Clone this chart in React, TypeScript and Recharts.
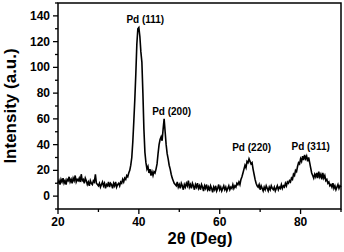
import React from 'react';
import { LineChart, Line, XAxis, YAxis, ReferenceArea, ReferenceDot, Label } from 'recharts';

const START_ANGLE = 20;
const STEP = 0.25;

// 20.00 – 37.00
const baselineLow = [
  10, 12, 9, 13, 11, 14, 10, 12, 9, 13, 12, 15, 11, 13, 10, 14, 12, 16, 11, 13, 12,
  14, 11, 17, 12, 13, 10, 14, 12, 9, 11, 8, 12, 10, 9, 12, 11, 17, 10, 9, 8,
  10, 7, 9, 11, 8, 10, 6, 9, 8, 11, 7, 10, 9, 6, 10, 8, 11, 7, 9, 10,
  8, 11, 10, 13, 11, 14, 13, 16,
];
// 37.25 – 43.50  Pd (111)
const peak111 = [
  15, 18, 20, 24, 30, 42, 58, 75, 95, 118, 130, 131, 124, 112, 104, 80,
  52, 34, 26, 21, 23, 18, 21, 16, 19, 16,
];
// 43.75 – 49.00  Pd (200)
const peak200 = [
  19, 18, 21, 25, 33, 40, 44, 46, 43, 52, 60, 50, 40, 33, 29, 24, 21, 17, 14, 12, 10, 9,
];
// 49.25 – 64.50
const baselineMid = [
  8, 11, 7, 9, 6, 10, 8, 5, 9, 7,
  10, 8, 12, 7, 9, 6, 10, 8, 5, 9,
  7, 10, 6, 8, 5, 9, 7, 4, 8, 6,
  9, 5, 7, 4, 8, 6, 3, 7, 5, 8,
  4, 6, 9, 5, 7, 4, 6, 8, 5, 7,
  4, 6, 8, 5, 7, 6, 9, 6, 8, 7,
  10, 9,
];
// 64.75 – 69.75  Pd (220)
const peak220 = [
  11, 9, 13, 15, 18, 21, 24, 22, 27, 26, 29, 27, 25, 26, 21, 17, 13, 10, 8, 7, 9,
];
// 70.00 – 77.00
const baselineHigh = [
  5, 8, 6, 4, 7, 5, 8, 6, 4, 7, 5, 8, 6, 5, 7, 4, 6, 8, 5, 7, 6, 9, 6, 8, 7, 10, 8, 11, 10,
];
// 77.25 – 90.00  Pd (311)
const peak311 = [
  12, 11, 14, 13, 17, 16, 20, 19, 23, 26, 25, 29, 27, 31, 28, 32, 29, 31, 27, 30,
  26, 22, 18, 16, 14, 17, 15, 18, 14, 19, 15, 17, 13, 18, 14, 16, 12, 13, 10, 11,
  8, 9, 7, 10, 6, 8, 5, 7, 9, 6, 8, 7,
];

const intensity = [
  ...baselineLow, ...peak111, ...peak200, ...baselineMid, ...peak220, ...baselineHigh, ...peak311,
];

const data = intensity.map((v, i) => ({ angle: START_ANGLE + i * STEP, intensity: v }));

const xTicks = [20, 30, 40, 50, 60, 70, 80, 90];
const xMajorTicks = [20, 40, 60, 80];
const yTicks = [-10, 0, 10, 20, 30, 40, 50, 60, 70, 80, 90, 100, 110, 120, 130, 140, 150];
const yMajorTicks = [0, 20, 40, 60, 80, 100, 120, 140];

const peakLabelText = ['Pd (111)', 'Pd (200)', 'Pd (220)', 'Pd (311)'];
const peakLabelAngle = [41.6, 48.1, 67.9, 82.5];
const peakLabelIntensity = [137.5, 66, 37.5, 38.5];

const FONT = '"Liberation Sans", Arial, sans-serif';

const XTick = (props: any) => {
  const { x, y, payload } = props;
  const major = xMajorTicks.includes(payload.value);
  return (
    <g>
      <line x1={x} y1={y} x2={x} y2={y + (major ? 5 : 3)} stroke="#000" strokeWidth={1.3} />
      {major && (
        <text x={x} y={y + 16.5} textAnchor="middle" fontSize={12} fontWeight="bold" fontFamily={FONT} fill="#000">
          {payload.value}
        </text>
      )}
    </g>
  );
};

const YTick = (props: any) => {
  const { x, y, payload } = props;
  const major = yMajorTicks.includes(payload.value);
  return (
    <g>
      <line x1={x} y1={y} x2={x - (major ? 5 : 3)} y2={y} stroke="#000" strokeWidth={1.3} />
      {major && (
        <text x={x - 8} y={y + 4} textAnchor="end" fontSize={12} fontWeight="bold" fontFamily={FONT} fill="#000">
          {payload.value}
        </text>
      )}
    </g>
  );
};

const YTitle = () => (
  <text
    x={16}
    y={106}
    transform="rotate(-90 16 106)"
    textAnchor="middle"
    fontSize={17}
    fontWeight="bold"
    fontFamily={FONT}
    fill="#000"
  >
    Intensity (a.u.)
  </text>
);

const XTitle = () => (
  <text x={200} y={243.5} textAnchor="middle" fontSize={16.5} fontWeight="bold" fontFamily={FONT} fill="#000">
    2θ (Deg)
  </text>
);

const PeakLabel = (text: string) => (props: any) => {
  const vb = props.viewBox || {};
  const cx = (vb.x ?? 0) + (vb.width ?? 0) / 2;
  const cy = (vb.y ?? 0) + (vb.height ?? 0) / 2;
  return (
    <text x={cx} y={cy + 3.5} textAnchor="middle" fontSize={10} fontWeight="bold" fontFamily={FONT} fill="#000">
      {text}
    </text>
  );
};

export default function App() {
  return (
    <div style={{ position: 'absolute', left: 0, top: 0, background: '#fff' }}>
      <LineChart width={344} height={252} data={data} margin={{ top: 3, right: 3, bottom: 0, left: 0 }}>
        <XAxis
          dataKey="angle"
          type="number"
          domain={[20, 90]}
          ticks={xTicks}
          interval={0}
          height={43}
          axisLine={false}
          tickLine={false}
          tickSize={0}
          tickMargin={0}
          tick={<XTick />}
        >
          <Label content={<XTitle />} />
        </XAxis>
        <YAxis
          type="number"
          domain={[-10, 150]}
          ticks={yTicks}
          interval={0}
          width={58}
          axisLine={false}
          tickLine={false}
          tickSize={0}
          tickMargin={0}
          tick={<YTick />}
        >
          <Label content={<YTitle />} />
        </YAxis>
        <ReferenceArea x1={20} x2={90} y1={-10} y2={150} fill="none" stroke="#000" strokeWidth={1.5} fillOpacity={0} />
        <Line
          type="linear"
          dataKey="intensity"
          stroke="#000"
          strokeWidth={1.6}
          dot={false}
          isAnimationActive={false}
        />
        {peakLabelText.map((t, i) => (
          <ReferenceDot
            key={t}
            x={peakLabelAngle[i]}
            y={peakLabelIntensity[i]}
            r={1}
            fill="none"
            stroke="none"
            label={{ content: PeakLabel(t) } as any}
          />
        ))}
      </LineChart>
    </div>
  );
}
